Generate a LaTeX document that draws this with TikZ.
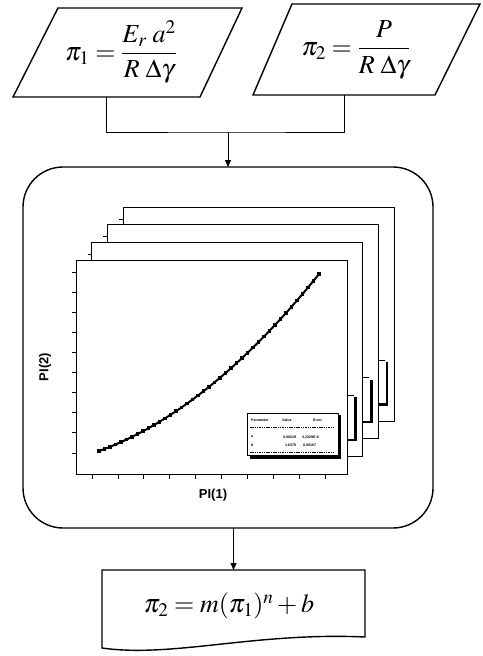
\documentclass[tikz,border=0pt]{standalone}
\usepackage{amsmath}
\usepackage{mathptmx}
\usepackage{fontspec}
\setsansfont{Liberation Sans}
\usetikzlibrary{arrows.meta,calc}
\tikzset{
  para/.style={line width=1.4pt, line join=miter},
  conn/.style={line width=0.8pt},
  tip/.style={-{Triangle[length=7pt,width=6pt]}},
  frm/.style={line width=0.8pt, fill=white},
  bigmath/.style={font=\fontsize{26}{30}\selectfont},
  axlab/.style={font=\sffamily\bfseries\fontsize{13}{15}\selectfont},
  legtxt/.style={font=\sffamily\bfseries\fontsize{3.6}{4}\selectfont, inner sep=0pt, anchor=west}
}
\begin{document}
\begin{tikzpicture}[x=1pt,y=-1pt]
\useasboundingbox (0,0) rectangle (482,656);
% input parallelograms
\draw[para] (58,8) -- (242,8) -- (200,97) -- (13,97) -- cycle;
\coordinate (p1) at (106.5,97);
\node (t1) [bigmath, inner sep=0pt] at (121,52) {$\pi_1 = \dfrac{E_r\;a^2}{R\;\Delta\gamma}$};
\draw[para] (292,4) -- (480,4) -- (435,95) -- (253,95) -- cycle;
\coordinate (p2) at (344,95);
\node (t2) [bigmath, inner sep=0pt] at (356,50) {$\pi_2 = \dfrac{P}{R\;\Delta\gamma}$};
% processing box
\node (box) [draw, line width=1.4pt, rounded corners=40pt, minimum width=410pt,
  minimum height=361pt, inner sep=0pt, outer sep=0pt] at (228,347.5) {};
% connectors
\coordinate (j) at (228,132);
\draw[conn] (p1) |- (j) -| (p2);
\draw[conn,tip] (j) -- (box.north);
% back frames
\foreach \k in {3,2,1}{
  \begin{scope}[shift={({\k*15.7},{-\k*17.7})}]
    \draw[frm] (76,260) rectangle (347,474);
    \draw[conn] (72,272) -- (76,272);
    \draw[line width=0.8pt] (247,413) -- (338,413);
    \draw[line width=2.6pt] (340,415) -- (340,457.5) -- (250,457.5);
  \end{scope}
}
% front frame
\draw[frm] (76,260) rectangle (347,474);
\foreach \yy in {272,292.1,...,454}{ \draw[conn] (72,\yy) -- (76,\yy); }
\foreach \xx in {92,117.9,...,326}{ \draw[conn] (\xx,474) -- (\xx,479); }
\draw[line width=2pt] plot[domain=0:1, samples=60] ({99+220*\x},{451-177*(0.45*\x+0.55*\x*\x)});
\foreach \t in {0,0.025,...,1.001}{
  \fill ({99+220*\t-1.8},{451-177*(0.45*\t+0.55*\t*\t)-1.8}) rectangle +(3.6,3.6);
}
% legend
\draw[line width=2.6pt] (340,415) -- (340,457.5) -- (250,457.5);
\draw[line width=0.8pt, fill=white] (247,413) rectangle (338,455);
\node (l1) [legtxt] at (251,420) {Parameter};
\node (l2) [legtxt] at (282,420) {Value};
\node (l3) [legtxt] at (313,420) {Error};
\draw[line width=0.5pt, dash pattern=on 1.5pt off 0.8pt] (250,427) -- (335,427);
\node (l4) [legtxt] at (251,437) {a};
\node (l5) [legtxt] at (283,437) {0.00219};
\node (l6) [legtxt] at (302,437) {3.2329E-6};
\node (l7) [legtxt] at (251,445) {b};
\node (l8) [legtxt] at (285,445) {1.6378};
\node (l9) [legtxt] at (303,445) {0.00167};
\draw[line width=0.5pt, dash pattern=on 1.5pt off 0.8pt] (250,452) -- (335,452);
% axis labels
\node (ylab) [axlab, rotate=90] at (45,367) {PI(2)};
\node (xlab) [axlab] at (213,495) {PI(1)};
% result document shape
\node (res) [minimum width=263pt, minimum height=67pt, inner sep=0pt, outer sep=0pt]
  at (233.5,603.5) {};
\node (rt) [bigmath, inner sep=0pt] at (229,606) {$\pi_2 = m(\pi_1)^n + b$};
\draw[line width=1.4pt] (res.north west) -- (res.north east) -- (res.south east)
  .. controls ($(res.south east)+(-110,-5)$) and ($(res.south west)+(70,21)$) ..
  ($(res.south west)+(0,11)$) -- cycle;
\draw[conn,tip] (box.south -| res.north) -- (res.north);
\end{tikzpicture}
\end{document}
